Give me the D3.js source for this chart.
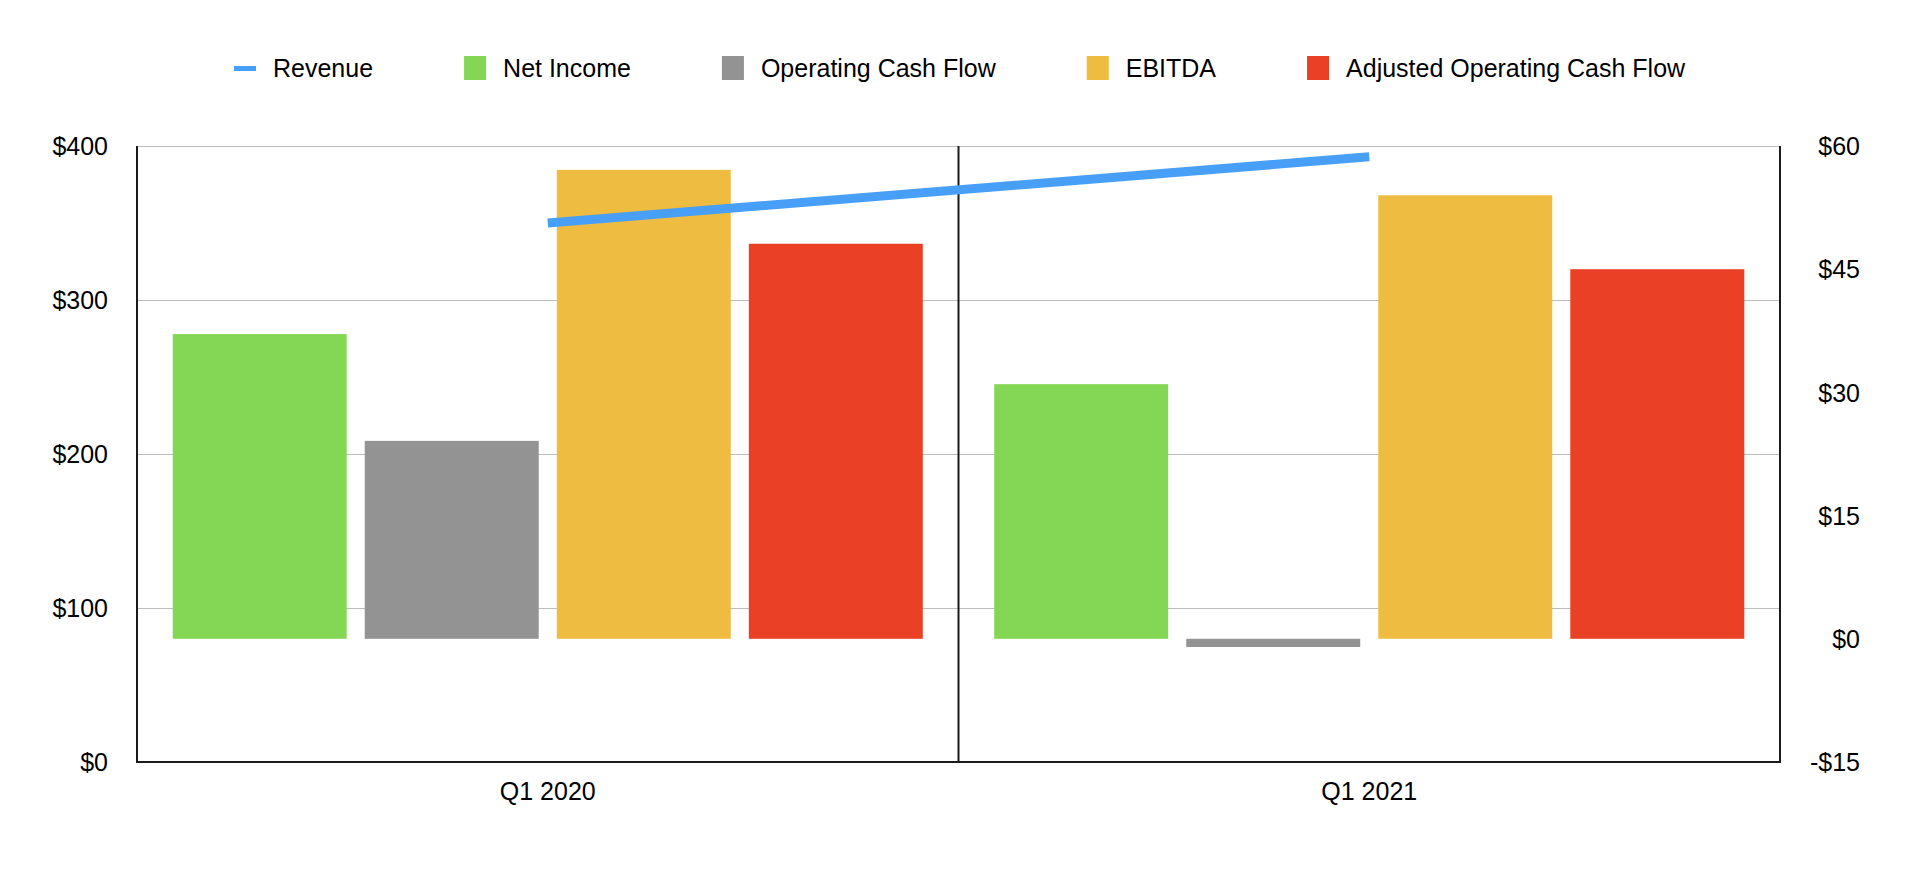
<!DOCTYPE html>
<html>
<head>
<meta charset="utf-8">
<script src="https://cdn.jsdelivr.net/npm/d3@7"></script>
<style>
  html, body { margin: 0; padding: 0; background: #fff; }
  text { font-family: "Liberation Sans", Arial, Helvetica, sans-serif; fill: #000; }
</style>
</head>
<body>
<svg id="viz" width="1918" height="882"></svg>
<script>
// data
const quarters = ["Q1 2020", "Q1 2021"];
const revenue = [350, 393];               // left axis
const netIncome = [37.1, 31.0];           // right axis
const operatingCashFlow = [24.1, -1.0];
const ebitda = [57.1, 54.0];
const adjustedOCF = [48.1, 45.0];
const barSeries = ["Net Income", "Operating Cash Flow", "EBITDA", "Adjusted Operating Cash Flow"];
const barValues = [netIncome, operatingCashFlow, ebitda, adjustedOCF];
const leftTicks = [0, 100, 200, 300, 400];
const rightTicks = [-15, 0, 15, 30, 45, 60];

const colors = {
    "Revenue": "#489ff7",
    "Net Income": "#83d755",
    "Operating Cash Flow": "#939393",
    "EBITDA": "#eebc41",
    "Adjusted Operating Cash Flow": "#ea4025"
};

var svg = d3.select("#viz");
const margin = {left: 137, right: 1780, top: 146, bottom: 762};

const x0 = d3.scaleBand()
    .domain(quarters)
    .range([margin.left, margin.right]);

const x1 = d3.scaleBand()
    .domain(barSeries)
    .range([0, x0.bandwidth()])
    .paddingInner(0.094)
    .paddingOuter(0.186);

const yL = d3.scaleLinear().domain([0, 400]).range([margin.bottom, margin.top]);
const yR = d3.scaleLinear().domain([-15, 60]).range([margin.bottom, margin.top]);

// gridlines (left axis)
svg.append("g")
    .attr("class", "grid")
    .selectAll("line")
    .data(leftTicks.filter(d => d > 0))
    .enter()
    .append("line")
    .attr("x1", margin.left)
    .attr("x2", margin.right)
    .attr("y1", d => Math.round(yL(d)) + 0.5)
    .attr("y2", d => Math.round(yL(d)) + 0.5)
    .attr("stroke", "#bdbdbd")
    .attr("stroke-width", 1.2);

// bars (right axis)
const rows = [];
quarters.forEach((q, i) => {
    barSeries.forEach((s, j) => rows.push({q: q, s: s, v: barValues[j][i]}));
});
svg.append("g")
    .attr("class", "bars")
    .selectAll("rect")
    .data(rows)
    .enter()
    .append("rect")
    .attr("x", d => x0(d.q) + x1(d.s))
    .attr("width", x1.bandwidth())
    .attr("y", d => yR(Math.max(0, d.v)))
    .attr("height", d => Math.abs(yR(d.v) - yR(0)))
    .attr("fill", d => colors[d.s]);

// frame: left, right, bottom, middle divider
const frame = svg.append("g").attr("class", "frame")
    .attr("stroke", "#1a1a1a")
    .attr("stroke-width", 2);
frame.append("line").attr("x1", margin.left).attr("x2", margin.left).attr("y1", margin.top).attr("y2", margin.bottom + 1);
frame.append("line").attr("x1", margin.right).attr("x2", margin.right).attr("y1", margin.top).attr("y2", margin.bottom + 1);
frame.append("line").attr("x1", margin.left - 1).attr("x2", margin.right + 1).attr("y1", margin.bottom).attr("y2", margin.bottom);
quarters.slice(1).forEach(q => {
    frame.append("line").attr("x1", x0(q)).attr("x2", x0(q)).attr("y1", margin.top).attr("y2", margin.bottom);
});

// revenue line (left axis)
const line = d3.line()
    .x((d, i) => x0(quarters[i]) + x0.bandwidth() / 2)
    .y(d => yL(d));
svg.append("path")
    .datum(revenue)
    .attr("d", line)
    .attr("fill", "none")
    .attr("stroke", colors["Revenue"])
    .attr("stroke-width", 9);

// axes labels
const fmt = v => (v < 0 ? "-$" : "$") + Math.abs(v);
svg.append("g")
    .call(d3.axisLeft(yL).tickValues(leftTicks).tickFormat(fmt).tickSize(0).tickPadding(0))
    .attr("transform", "translate(108,0)")
    .call(g => g.select(".domain").remove())
    .selectAll("text")
    .attr("font-size", 25)
    .attr("font-family", "Liberation Sans, Arial, sans-serif")
    .attr("dy", "0.35em");

svg.append("g")
    .call(d3.axisLeft(yR).tickValues(rightTicks).tickFormat(fmt).tickSize(0).tickPadding(0))
    .attr("transform", "translate(1860,0)")
    .call(g => g.select(".domain").remove())
    .selectAll("text")
    .attr("font-size", 25)
    .attr("font-family", "Liberation Sans, Arial, sans-serif")
    .attr("dy", "0.35em");

svg.append("g")
    .call(d3.axisBottom(x0).tickSize(0).tickPadding(0))
    .attr("transform", `translate(0,${margin.bottom + 20})`)
    .call(g => g.select(".domain").remove())
    .selectAll("text")
    .attr("font-size", 25)
    .attr("font-family", "Liberation Sans, Arial, sans-serif")
    .attr("dy", "0.71em");

// legend
const legendNames = ["Revenue"].concat(barSeries);
const legend = svg.append("g").attr("class", "legend");
let lx = 0;
legendNames.forEach((name, i) => {
    const item = legend.append("g").attr("transform", `translate(${lx},0)`);
    if (name === "Revenue") {
        item.append("rect").attr("x", 0).attr("y", 66).attr("width", 22).attr("height", 5).attr("fill", colors[name]);
    } else {
        item.append("rect").attr("x", 0).attr("y", 56).attr("width", 22).attr("height", 24).attr("fill", colors[name]);
    }
    const t = item.append("text")
        .attr("x", 39)
        .attr("y", 68)
        .attr("dy", "0.35em")
        .attr("font-size", 25)
        .text(name);
    lx += 39 + t.node().getComputedTextLength() + 91;
});
const lw = legend.node().getBBox().width;
legend.attr("transform", `translate(${Math.round(960 - lw / 2)},0)`);
</script>
</body>
</html>
